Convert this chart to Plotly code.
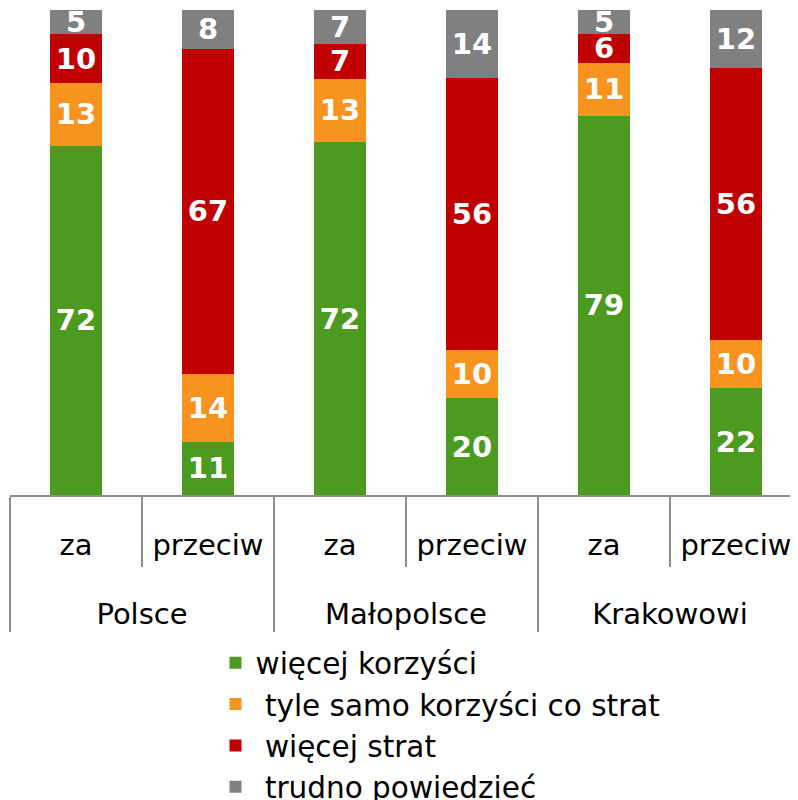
import plotly.graph_objects as go

regions = ["Polsce", "Polsce", "Małopolsce", "Małopolsce", "Krakowowi", "Krakowowi"]
stances = ["za", "przeciw", "za", "przeciw", "za", "przeciw"]

more_benefits = [72, 11, 72, 20, 79, 22]
equal = [13, 14, 13, 10, 11, 10]
more_losses = [10, 67, 7, 56, 6, 56]
hard_to_say = [5, 8, 7, 14, 5, 12]

series = [
    ("więcej korzyści", more_benefits, "#4d9a21"),
    ("\u00a0tyle samo korzyści co strat", equal, "#f7931e"),
    ("\u00a0więcej strat", more_losses, "#c00000"),
    ("\u00a0trudno powiedzieć", hard_to_say, "#808080"),
]

# page body has an 8px offset, so figure coords = screen - 8
# figure is a bit taller than the window so the legend does not squeeze the plot
W, H = 798, 840
axis_y = 487
ml, mr, mt = 2, 0, 2
mb = H - axis_y
cat_px = 132
xr = [-0.5, -0.5 + (W - ml - mr) / cat_px]
plot_w = W - ml - mr
plot_h = axis_y - mt

# tall empty second line pushes the region labels further down
inner = [s + "<br><span style='font-size:78px'>\u00a0</span>" for s in stances]

fig = go.Figure()
for name, vals, color in series:
    fig.add_trace(go.Bar(
        x=[regions, inner], y=vals, name=name, legendgroup=name,
        marker=dict(color=color, line=dict(width=0)),
        text=vals, texttemplate="%{text}", textposition="inside",
        insidetextanchor="middle", constraintext="none", textangle=0,
        textfont=dict(family="DejaVu Sans", size=29, color="white", weight="bold"),
    ))

# short boundary ticks between za / przeciw
for b in [0.5, 2.5, 4.5]:
    px = (b - xr[0]) / (xr[1] - xr[0])
    fig.add_shape(type="line", xref="paper", yref="paper",
                  x0=px, x1=px, y0=0, y1=-72 / plot_h,
                  line=dict(color="#8c8c8c", width=2))

fig.update_layout(
    width=W, height=H,
    margin=dict(l=ml, r=mr, t=mt, b=mb),
    barmode="stack", barnorm="percent", bargap=0.6,
    plot_bgcolor="white", paper_bgcolor="white",
    font=dict(family="DejaVu Sans", size=29, color="black"),
    showlegend=True,
    legend=dict(x=(207.5 - ml) / plot_w, xanchor="left",
                y=-(629 - axis_y) / plot_h, yanchor="top",
                traceorder="normal", tracegroupgap=3,
                font=dict(size=29.5), bgcolor="rgba(0,0,0,0)"),
)
fig.update_xaxes(type="multicategory", range=xr, automargin=False,
                 showline=True, linecolor="#8c8c8c", linewidth=2,
                 ticks="", ticklabelstandoff=23,
                 showdividers=True, dividercolor="#8c8c8c",
                 dividerwidth=2, tickfont=dict(size=29, color="black"))
fig.update_yaxes(visible=False, range=[0, 100])

fig.write_html("out.html")
